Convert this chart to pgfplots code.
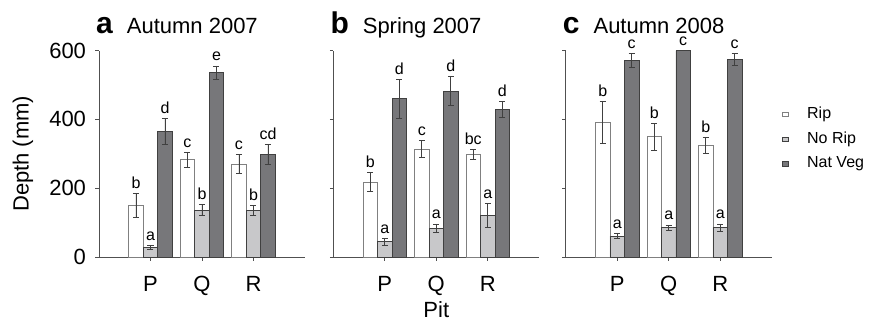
\documentclass[border=0pt]{standalone}
\usepackage{fontspec}
\setmainfont{Liberation Sans}
\usepackage{pgfplots}
\usepackage{pgfplotstable}
\pgfplotsset{compat=1.18}

\definecolor{natveg}{HTML}{77777A}
\definecolor{norip}{HTML}{C8C8CA}
\definecolor{edgedark}{HTML}{404040}
\definecolor{edgerip}{HTML}{808080}
\definecolor{axisgray}{HTML}{505050}

% Panel a: Autumn 2007
\pgfplotstableread{
x y err lab
1 150 34 b
2 282 22 c
3 270 27 c
}\aRip
\pgfplotstableread{
x y err lab
1 28 5 a
2 136 16 b
3 135 14 b
}\aNoRip
\pgfplotstableread{
x y err lab
1 365 37 d
2 535 20 e
3 298 29 cd
}\aNat
% Panel b: Spring 2007
\pgfplotstableread{
x y err lab
1 218 27 b
2 313 25 c
3 297 15 bc
}\bRip
\pgfplotstableread{
x y err lab
1 44 10 a
2 83 13 a
3 120 35 a
}\bNoRip
\pgfplotstableread{
x y err lab
1 460 57 d
2 482 43 d
3 428 23 d
}\bNat
% Panel c: Autumn 2008
\pgfplotstableread{
x y err lab
1 391 60 b
2 349 38 b
3 324 23 b
}\cRip
\pgfplotstableread{
x y err lab
1 61 7 a
2 85 8 a
3 85 11 a
}\cNoRip
\pgfplotstableread{
x y err lab
1 571 21 c
2 600 0 c
3 573 17 c
}\cNat

\newcommand{\bigfont}{\fontsize{22bp}{26bp}\selectfont}
\newcommand{\smallfont}{\fontsize{16bp}{19bp}\selectfont}
\newcommand{\letterfont}{\fontsize{30bp}{32bp}\selectfont\bfseries}

\pgfplotsset{
 panel/.style={
  scale only axis, width=206bp, height=206.5bp,
  xmin=0, xmax=4, ymin=0, ymax=600,
  ybar=0pt, bar width=14.5bp,
  axis x line*=bottom, axis y line*=left,
  axis line style={axisgray, line width=0.9bp, -},
  xtick={1,2,3}, xticklabels={P,Q,R},
  ytick={0,200,400,600},
  tick align=outside, major tick length=3.5bp,
  tick style={axisgray, line width=0.9bp},
  ticklabel style={font=\bigfont},
  xticklabel style={yshift=-12bp},
  yticklabel style={xshift=-6bp},
  /pgf/number format/assume math mode=true,
  clip=false,
  title style={at={(axis description cs:0,1)}, anchor=base west, inner sep=0pt, xshift=-3bp, yshift=11.5bp, font=\bigfont},
 },
}

\newcommand{\barplot}[3]{%
 \addplot[fill=#2, draw=#3, line width=0.9bp,
   visualization depends on={\thisrow{err} \as \myerr},
   nodes near coords, point meta=explicit symbolic,
   every node near coord/.append style={font=\smallfont, inner sep=0pt, anchor=base, yshift=\myerr*0.34417bp+5bp, text=black},
   error bars/.cd, y dir=both, y explicit,
   error bar style={edgedark, line width=0.9bp},
   error mark options={rotate=90, mark size=3bp, edgedark, line width=0.9bp}]
   table[x=x, y=y, y error=err, meta=lab] {#1};
}

\begin{document}
\begin{tikzpicture}
\useasboundingbox (0,0) rectangle (874bp,326bp);

\begin{axis}[panel, at={(99bp,69bp)}, anchor=south west,
  title={{\letterfont a}\hspace{14bp}Autumn 2007},
  ylabel={Depth (mm)},
  ylabel style={at={(axis description cs:-0.369,0.5)}, anchor=center, font=\bigfont, inner sep=0pt},
 ]
 \barplot{\aRip}{white}{edgerip}
 \barplot{\aNoRip}{norip}{edgedark}
 \barplot{\aNat}{natveg}{edgedark}
\end{axis}

\begin{axis}[panel, at={(333.3bp,69bp)}, anchor=south west,
  title={{\letterfont b}\hspace{14bp}Spring 2007},
  yticklabels={},
  xlabel={Pit},
  xlabel style={at={(axis description cs:0.5,-0.291)}, anchor=base, font=\bigfont, inner sep=0pt},
 ]
 \barplot{\bRip}{white}{edgerip}
 \barplot{\bNoRip}{norip}{edgedark}
 \barplot{\bNat}{natveg}{edgedark}
\end{axis}

\begin{axis}[panel, at={(565.7bp,69bp)}, anchor=south west,
  title={{\letterfont c}\hspace{14bp}Autumn 2008},
  yticklabels={},
  legend cell align=left,
  legend style={at={(axis description cs:1.049,0.570)}, anchor=west, draw=none, fill=none, inner sep=0pt, outer sep=0pt,
    font=\smallfont, row sep=8.7bp, nodes={inner sep=0pt, text height=12bp, text depth=4bp}},
  legend image code/.code={\draw[#1, line width=0.8bp] (0bp,-2.3bp) rectangle (6.5bp,2.3bp); \path (24.5bp,0bp);},
 ]
 \barplot{\cRip}{white}{edgerip}
 \barplot{\cNoRip}{norip}{edgedark}
 \barplot{\cNat}{natveg}{edgedark}
 \legend{Rip, No Rip, Nat Veg}
\end{axis}
\end{tikzpicture}
\end{document}
